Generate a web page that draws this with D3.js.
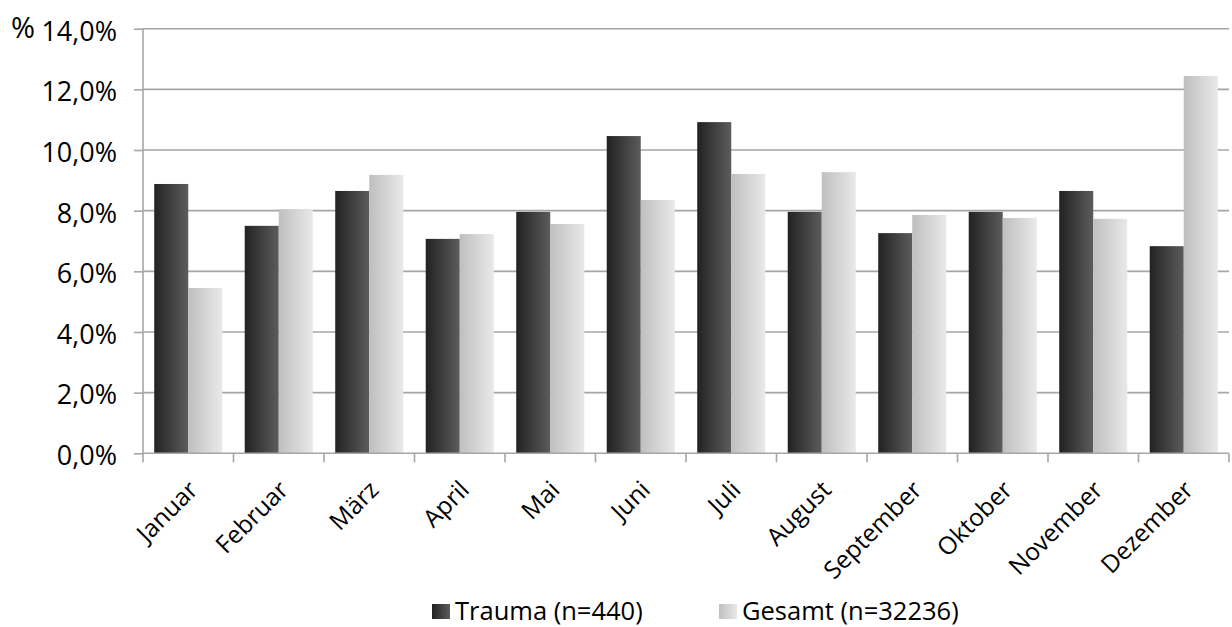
<!DOCTYPE html>
<html>
<head>
<meta charset="utf-8">
<script src="https://cdn.jsdelivr.net/npm/d3@7"></script>
<style>
  html, body { margin: 0; padding: 0; background: #fff; }
  svg { display: block; font-family: "Open Sans", sans-serif; }
</style>
</head>
<body>
<svg id="chart" width="1232" height="627"></svg>
<script>
const months = ["Januar","Februar","März","April","Mai","Juni","Juli","August","September","Oktober","November","Dezember"];
const series = ["Trauma (n=440)", "Gesamt (n=32236)"];
const trauma = [8.88, 7.50, 8.65, 7.07, 7.96, 10.46, 10.92, 7.96, 7.26, 7.96, 8.65, 6.83];
const gesamt = [5.45, 8.05, 9.18, 7.23, 7.56, 8.35, 9.21, 9.27, 7.86, 7.76, 7.73, 12.44];
const yTicks = [0, 2, 4, 6, 8, 10, 12, 14];

const data = months.map((m, i) => ({ month: m, values: [trauma[i], gesamt[i]] }));

const svg = d3.select("#chart");
const mLeft = 143, mRight = 1229, mTop = 28.7, mBottom = 453.3;

const defs = svg.append("defs");
const grads = [["gTrauma", "#222222", "#5c5c5c"], ["gGesamt", "#bfbfbf", "#e9e9e9"]];
grads.forEach(([id, c0, c1]) => {
  const g = defs.append("linearGradient").attr("id", id).attr("x1", "0%").attr("x2", "100%").attr("y1", "0%").attr("y2", "0%");
  g.append("stop").attr("offset", "0%").attr("stop-color", c0);
  g.append("stop").attr("offset", "100%").attr("stop-color", c1);
});

const x0 = d3.scaleBand().domain(months).range([mLeft, mRight]).padding(0);
const x1 = d3.scaleBand().domain(series).range([0, x0.bandwidth()]).paddingInner(0).paddingOuter(0.33);
const y = d3.scaleLinear().domain([0, 14]).range([mBottom, mTop]);

// gridlines
svg.append("g")
  .selectAll("line")
  .data(yTicks.filter(t => t > 0))
  .join("line")
  .attr("x1", mLeft).attr("x2", mRight)
  .attr("y1", d => y(d)).attr("y2", d => y(d))
  .attr("stroke", "#a6a6a6").attr("stroke-width", 1.6);

// y axis
const yAxis = d3.axisLeft(y).tickValues(yTicks).tickSize(9).tickPadding(17)
  .tickFormat(d => d.toFixed(1).replace(".", ",") + "%");
const gy = svg.append("g").attr("transform", `translate(${mLeft},0)`).call(yAxis);
gy.attr("font-size", null).attr("font-family", null);
gy.select(".domain").attr("stroke", "#a6a6a6").attr("stroke-width", 1.6).attr("d", `M0,${mTop}V${mBottom}`);
gy.selectAll(".tick line").attr("stroke", "#a6a6a6").attr("stroke-width", 1.6);
gy.selectAll(".tick text").style("font-size", "27px").attr("fill", "#000").style("font-family", "'Open Sans'")
  .attr("dy", "0.42em");

// bars
const groups = svg.append("g").selectAll("g").data(data).join("g")
  .attr("transform", d => `translate(${x0(d.month)},0)`);
groups.selectAll("rect")
  .data(d => d.values.map((v, i) => ({ key: series[i], v, i })))
  .join("rect")
  .attr("x", d => x1(d.key))
  .attr("width", x1.bandwidth())
  .attr("y", d => y(d.v))
  .attr("height", d => y(0) - y(d.v))
  .attr("fill", d => d.i === 0 ? "url(#gTrauma)" : "url(#gGesamt)");

// x axis
const gx = svg.append("g").attr("transform", `translate(0,${mBottom})`);
gx.append("line").attr("x1", mLeft).attr("x2", mRight).attr("y1", 0).attr("y2", 0)
  .attr("stroke", "#a6a6a6").attr("stroke-width", 1.6);
const boundaries = months.map(m => x0(m)).concat([x0(months[months.length - 1]) + x0.bandwidth()]);
gx.selectAll("line.tk").data(boundaries).join("line").attr("class", "tk")
  .attr("x1", d => d).attr("x2", d => d).attr("y1", 0).attr("y2", 9)
  .attr("stroke", "#a6a6a6").attr("stroke-width", 1.6);
gx.selectAll("text").data(months).join("text")
  .attr("transform", d => `translate(${x0(d) + x0.bandwidth() / 2 + 11},${38}) rotate(-45)`)
  .attr("text-anchor", "end")
  .attr("font-size", 24.5)
  .attr("fill", "#000")
  .text(d => d);

// % label
svg.append("text").attr("x", 11).attr("y", 38).attr("font-size", 29).attr("fill", "#000").text("%");

// legend
const legendX = [432, 719];
const lg = svg.append("g").selectAll("g").data(series).join("g")
  .attr("transform", (d, i) => `translate(${legendX[i]},604)`);
lg.append("rect").attr("width", 18).attr("height", 15)
  .attr("fill", (d, i) => i === 0 ? "url(#gTrauma)" : "url(#gGesamt)");
lg.append("text").attr("x", 23).attr("y", 16).attr("font-size", 25.5).attr("fill", "#000").text(d => d);
</script>
</body>
</html>
